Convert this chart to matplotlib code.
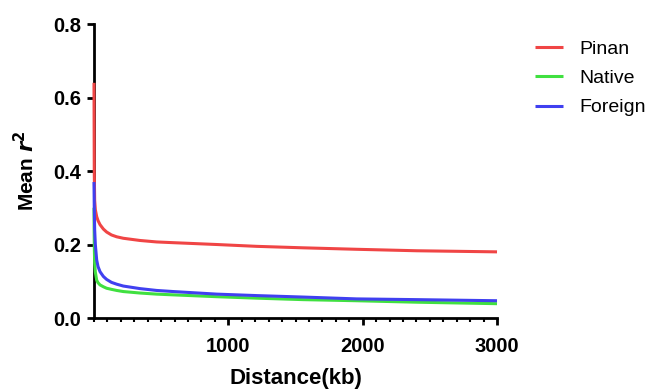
import matplotlib
matplotlib.use("Agg")
import matplotlib.pyplot as plt
from matplotlib.ticker import MultipleLocator, FixedLocator

distance_kb = [0, 2, 5, 10, 20, 30, 45, 70, 94, 130, 169, 218, 342, 466, 590, 913, 1211, 1557, 1955, 2402, 3000]
pinan = [0.64, 0.40, 0.32, 0.295, 0.276, 0.265, 0.254, 0.242, 0.234, 0.226, 0.221, 0.217, 0.211, 0.207, 0.205, 0.200, 0.195, 0.191, 0.187, 0.183, 0.180]
native = [0.30, 0.20, 0.15, 0.125, 0.103, 0.096, 0.090, 0.085, 0.081, 0.078, 0.075, 0.072, 0.068, 0.065, 0.063, 0.058, 0.054, 0.050, 0.047, 0.043, 0.039]
foreign = [0.37, 0.30, 0.24, 0.20, 0.158, 0.140, 0.126, 0.113, 0.105, 0.097, 0.092, 0.087, 0.080, 0.075, 0.072, 0.065, 0.061, 0.057, 0.052, 0.050, 0.047]

series = [("Pinan", pinan, "#F04545"), ("Native", native, "#40E040"), ("Foreign", foreign, "#4040F0")]
x_major = [1000, 2000, 3000]
y_ticks = [0.0, 0.2, 0.4, 0.6, 0.8]

plt.rcParams['font.family'] = ['Liberation Sans', 'DejaVu Sans']

fig = plt.figure(figsize=(6.55, 3.9), dpi=100)
ax = fig.add_axes([0.1435, 0.1846, 0.6153, 0.7538])

for name, vals, col in series:
    ax.plot(distance_kb, vals, color=col, lw=2.2, label=name, solid_capstyle='butt',
            zorder=3, clip_on=False)

ax.set_xlim(0, 3000)
ax.set_ylim(0, 0.8)
ax.xaxis.set_major_locator(FixedLocator(x_major))
ax.xaxis.set_minor_locator(MultipleLocator(100))
ax.set_yticks(y_ticks)
ax.set_yticklabels([f"{v:.1f}" for v in y_ticks])

for s in ['top', 'right']:
    ax.spines[s].set_visible(False)
for s in ['left', 'bottom']:
    ax.spines[s].set_linewidth(2)
    ax.spines[s].set_color('black')

ax.tick_params(axis='both', which='major', direction='out', length=5, width=2, labelsize=14.5, pad=4)
ax.tick_params(axis='x', which='minor', direction='out', length=3, width=1.5)
ax.tick_params(axis='x', which='major', pad=9)
for lbl in ax.get_xticklabels() + ax.get_yticklabels():
    lbl.set_fontweight('bold')

ax.set_xlabel("Distance(kb)", fontsize=16, fontweight='bold', labelpad=8.5)
ax.set_ylabel("Mean $\\mathbfit{r}^{\\mathbf{2}}$", fontsize=15, fontweight='bold', labelpad=11)

leg = fig.legend(loc='upper left', bbox_to_anchor=(535 / 655, 0.897), bbox_transform=fig.transFigure,
                 frameon=False, fontsize=14, borderpad=0, borderaxespad=0,
                 handlelength=1.45, handletextpad=0.85, labelspacing=0.6)

fig.savefig("out.png", dpi=100)
